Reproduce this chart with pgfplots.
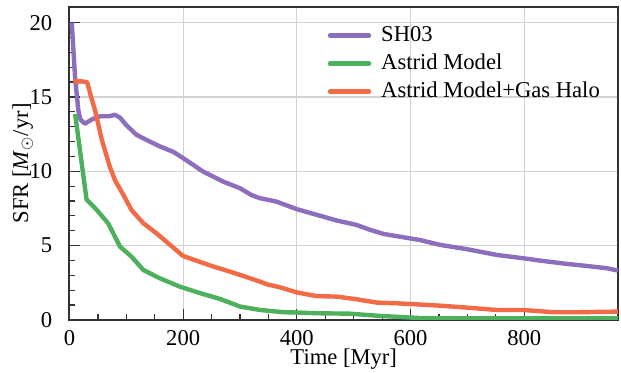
\documentclass[border=0pt]{standalone}
\usepackage{fontspec}
\setmainfont{Liberation Serif}
\usepackage{pgfplots}
\pgfplotsset{compat=1.18}
\definecolor{cpurple}{RGB}{140,110,188}
\definecolor{cgreen}{RGB}{76,176,92}
\definecolor{corange}{RGB}{242,107,70}
\definecolor{cframe}{RGB}{50,50,50}
\definecolor{cgrid}{RGB}{210,210,210}
\begin{document}
\fontsize{11.3}{13.5}\selectfont
\begin{tikzpicture}
\begin{axis}[
  scale only axis,
  width=274.3pt, height=156.5pt,
  xmin=0, xmax=965, ymin=0, ymax=21.05,
  xtick={0,200,...,800}, ytick={0,5,...,20},
  minor x tick num=3, minor y tick num=4,
  tick pos=left, tick align=inside,
  major tick length=5.5pt, minor tick length=3pt,
  every tick/.style={draw=cframe, line width=0.6pt},
  axis line style={draw=cframe, line width=1pt},
  grid=major,
  major grid style={draw=cgrid, line width=0.6pt},
  /pgf/number format/assume math mode=true,
  tick label style={font=\fontsize{11.3}{13.5}\selectfont},
  xticklabel style={yshift=-1.2pt},
  yticklabel style={xshift=-4.7pt},
  every axis x label/.style={at={(axis description cs:0.5,-0.1438)}, anchor=base},
  every axis y label/.style={at={(axis description cs:-0.0756,0.5)}, anchor=base, rotate=90},
  label style={font=\fontsize{11.3}{13.5}\selectfont},
  xlabel={Time [Myr]},
  ylabel={SFR [\textit{M}$_\odot$/yr]},
  legend style={at={(axis description cs:0.4593,0.9676)}, anchor=north west, draw=none, fill=none,
    font=\fontsize{11.3}{13.5}\selectfont, row sep=0pt,
    nodes={inner sep=2pt, text height=8pt, text depth=2pt}},
  legend cell align=left,
  legend image code/.code={\draw[#1, line cap=round] (0pt,0pt) -- (19.5pt,0pt); \path (22.5pt,0pt);},
  every axis plot/.append style={line width=2.2pt, line join=round},
]
\addplot[cpurple] coordinates {
(4,20.0) (9.7,16.4) (15.5,14.1) (19,13.5) (27,13.2) (40,13.5) (54,13.7) (70,13.7) (80,13.8) (89,13.6) (100,13.1) (118,12.45) (136,12.1) (159,11.67) (183,11.3) (200,10.88) (215,10.5) (235,9.98) (255,9.6) (270,9.31) (300,8.86) (320,8.4) (335,8.19) (364,7.96) (400,7.45) (435,7.07) (470,6.69) (505,6.39) (529,6.06) (552,5.79) (581,5.6) (616,5.38) (652,5.05) (699,4.76) (752,4.37) (798,4.15) (828,3.99) (875,3.77) (910,3.63) (945,3.48) (965,3.32)
};
\addlegendentry{SH03}
\addplot[cgreen] coordinates {
(10,13.85) (30,8.1) (48,7.4) (68,6.5) (89,4.93) (109,4.26) (130,3.36) (159,2.8) (194,2.24) (230,1.8) (265,1.41) (300,0.9) (335,0.67) (376,0.52) (400,0.5) (435,0.45) (493,0.42) (546,0.27) (581,0.2) (620,0.12) (700,0.1) (800,0.1) (900,0.1) (965,0.1)
};
\addlegendentry{Astrid Model}
\addplot[corange] coordinates {
(7,16.05) (20,16.05) (31,16.0) (38,15.0) (45,14.1) (57,12.1) (71,10.3) (80,9.4) (95,8.4) (109,7.4) (130,6.5) (153,5.83) (177,5.05) (200,4.3) (230,3.9) (253,3.59) (270,3.4) (300,3.03) (335,2.58) (347,2.4) (370,2.2) (400,1.85) (435,1.6) (470,1.57) (505,1.39) (540,1.17) (576,1.12) (610,1.05) (652,0.96) (699,0.83) (752,0.67) (798,0.67) (851,0.52) (898,0.52) (965,0.56)
};
\addlegendentry{Astrid Model+Gas Halo}
\end{axis}
\pgfresetboundingbox
\useasboundingbox ([shift={(-34.75pt,-26.5pt)}]current axis.south west) rectangle ([shift={(1.5pt,3.5pt)}]current axis.north east);
\end{tikzpicture}
\end{document}
